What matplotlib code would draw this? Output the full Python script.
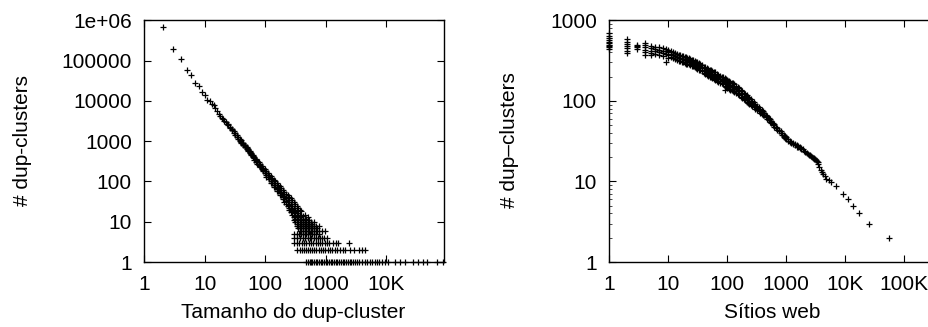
import matplotlib
matplotlib.use("Agg")
import matplotlib.pyplot as plt
from matplotlib.ticker import FixedLocator, LogLocator, NullLocator

plt.rcParams['font.family'] = ['Liberation Sans', 'DejaVu Sans']

# --- grafico 1: tamanho do dup-cluster x numero de dup-clusters ---
# tamanhos pequenos, um ponto cada
head_x = [2, 3, 4, 5, 6, 7, 8, 9, 10, 11, 12, 13, 14, 15, 16, 17, 18, 19, 20, 21, 22, 23]
head_y = [670000, 194000, 111000, 57000, 43000, 28000, 23000, 17000, 13800, 10700, 9800,
          8600, 7700, 6600, 5500, 4600, 4200, 3800, 3500, 3200, 2950, 2700]

# faixa densa (tamanho, contagens lidas)
band_groups = [
    (24, [2700, 2500]), (26, [2300, 2150]), (28, [2000, 1850]), (30, [1780, 1620]),
    (32, [1560, 1430]), (34, [1400, 1270]), (36, [1250, 1130]), (38, [1130, 1020]),
    (40, [1040, 980, 920]), (43, [900, 855, 810]), (46, [790, 748, 705]),
    (49, [700, 664, 625]), (52, [630, 593, 555]), (55, [570, 534, 500]),
    (58, [515, 482, 450]), (62, [455, 425, 395]), (66, [405, 377, 350]),
    (70, [365, 337, 310]), (74, [330, 303, 278]), (78, [300, 275, 250]),
    (83, [268, 244, 222]), (88, [240, 218, 198]), (93, [218, 197, 178]),
    (98, [198, 178, 160]), (104, [178, 158, 142, 130]), (110, [162, 143, 128]),
    (116, [148, 129, 114]), (123, [133, 115, 102, 92]), (130, [122, 104, 92]),
    (138, [110, 93, 82, 74]), (146, [100, 83, 73]), (155, [90, 74, 65, 58]),
    (164, [82, 67, 58]), (174, [75, 60, 52, 45]), (184, [68, 54, 47]),
    (195, [62, 48, 42, 36]), (207, [55, 43, 37, 31]), (220, [50, 38, 33, 28]),
    (233, [45, 34, 30, 25]), (247, [42, 31, 26, 22, 19]), (262, [38, 28, 24, 20, 17]),
    (278, [34, 25, 21, 18, 15]), (295, [30, 22, 19, 16, 13, 11]),
    (313, [27, 20, 17, 14, 12, 10]), (332, [24, 18, 15, 13, 11, 9, 8]),
    (352, [22, 16, 14, 12, 10, 8, 7]), (373, [20, 15, 13, 11, 9, 8, 7, 6]),
    (395, [18, 14, 12, 10, 9, 8, 7, 6]), (420, [14, 12, 11, 10, 9, 8, 7, 6]),
    (445, [15, 12, 10, 9, 8, 7, 6]), (470, [12, 10, 9, 8, 7, 6]),
    (500, [13, 11, 9, 8, 7, 6]), (530, [11, 9, 8, 7, 6]), (560, [10, 9, 8, 7, 6]),
    (600, [9, 8, 7, 6]), (640, [10, 8, 7, 6]), (680, [8, 7, 6]), (720, [7, 6]),
    (780, [8, 6]), (850, [6]), (960, [6]),
]

# linhas de contagem baixa
row5_x = [300, 330, 360, 390, 420, 450, 480, 510, 550, 600, 650, 700, 760]
row4_x = [300, 340, 380, 420, 460, 500, 540, 580, 630, 680, 740, 800, 870, 950, 1050]
row3_x = [300, 330, 360, 400, 440, 480, 520, 570, 620, 680, 740, 810, 880, 960,
          1050, 1150, 1300, 1450, 1600, 2400]
row2_x = [330, 370, 400, 430, 470, 510, 550, 600, 650, 700, 760, 830, 900, 980, 1070,
          1170, 1280, 1400, 1550, 1700, 1900, 2100, 2500, 2900, 3500, 4000, 4500]
row1_x = [480, 510, 540, 570, 600, 640, 680, 720, 770, 820, 870, 930, 990, 1050, 1120,
          1200, 1280, 1370, 1460, 1560, 1670, 1780, 1900, 2030, 2170, 2320, 2480, 2650,
          2830, 3000, 3300, 3600, 4000, 4400, 4800, 5300, 5800, 6400, 7000, 7700, 8500,
          9400, 10700, 13800, 17000, 20400, 27500, 33800, 40700, 47900, 69000, 87000]

# --- grafico 2: sitios web x numero de dup-clusters ---
web_groups = [
    (1, [700, 640, 600, 570, 540, 520, 500, 480, 460, 440]),
    (2, [580, 540, 510, 480, 450, 420, 390]),
    (3, [500, 480, 460, 440]),
    (4, [530, 490, 460, 430, 400, 370]),
    (5, [480, 450, 420, 390, 370]),
    (6, [470, 440, 410, 380]), (7, [460, 430, 400, 370]), (8, [450, 420, 390, 360]),
    (9, [440, 410, 380, 300]), (10, [430, 400, 370, 340]), (11, [410, 380, 350]),
    (12, [400, 370, 340]), (13, [390, 360, 330]), (14, [380, 350, 320]),
    (15, [375, 345, 315]), (16, [370, 340, 310]), (17, [365, 335, 305]),
    (18, [360, 330, 300]), (19, [355, 325, 295]), (20, [350, 320, 290]),
    (21, [345, 315, 288]), (22, [340, 310, 285]), (23, [335, 305, 280]),
    (25, [325, 295, 270]), (26, [320, 292, 268]), (28, [310, 285, 260]),
    (29, [305, 280, 256]), (31, [300, 275, 250]), (33, [295, 270, 245]),
    (35, [290, 265, 240]), (37, [280, 256, 232]), (40, [265, 242, 220]),
    (42, [262, 238, 216]), (45, [255, 232, 210]), (47, [250, 228, 206]),
    (50, [245, 222, 200]), (53, [240, 217, 196]), (56, [235, 212, 192]),
    (59, [230, 207, 187]), (63, [225, 202, 182]), (66, [218, 197, 178]),
    (70, [212, 192, 173]), (75, [206, 187, 169]), (80, [200, 182, 165]),
    (85, [195, 177, 160]), (90, [190, 172, 155, 135]), (95, [185, 167, 150]),
    (100, [180, 162, 145]), (106, [176, 158, 141]), (112, [172, 155, 138]),
    (118, [168, 151, 135]), (125, [165, 148, 132]), (132, [160, 144, 128]),
    (140, [155, 140, 125]), (149, [150, 135, 121]), (158, [145, 131, 118]),
    (169, [138, 125, 113]), (180, [132, 120, 108]), (190, [127, 116, 105]),
    (200, [122, 112, 102]), (212, [117, 108, 98]), (225, [112, 104, 95]),
    (237, [108, 100, 92]), (250, [104, 97, 90]), (265, [100, 93, 87]),
    (280, [96, 90, 84]), (300, [91, 86, 80]), (320, [87, 82, 77]),
    (340, [83, 78, 74]), (360, [80, 75, 71]), (380, [77, 72, 68]),
    (400, [74, 70, 66]), (425, [70, 66]), (450, [67, 63]), (475, [64, 60]),
    (500, [62, 58]), (530, [59, 55]), (560, [56, 53]), (595, [53, 50]),
    (630, [51, 48]), (665, [48, 46]), (700, [46, 44]), (750, [44, 42]),
    (800, [42, 40]), (850, [40, 38]), (900, [38, 36]), (950, [37, 35]),
    (1000, [36, 34]), (1080, [34, 32]), (1150, [32, 31]), (1220, [31, 30]),
    (1300, [30, 29]), (1400, [29, 28]), (1500, [28, 27]), (1600, [27.5, 26.5]),
    (1700, [27, 26]), (1800, [26, 25]), (1900, [25]), (2000, [24]), (2100, [23]),
    (2200, [22.5]), (2300, [22]), (2400, [21.5]), (2500, [21]), (2600, [20.5]),
    (2700, [20]), (2800, [19.8]), (2900, [19.5]), (3000, [19.2]), (3100, [19]),
    (3200, [18.5]), (3300, [18]), (3400, [17.2]), (3500, [16.5]), (3650, [15.2]),
    (3800, [14]), (4000, [13.2]), (4200, [12.4]), (4500, [11.6]), (4800, [10.8]),
    (5200, [10.3]), (5700, [9.8]), (6900, [8.9]), (9000, [7]), (11100, [6]),
    (13500, [5]), (17000, [4]), (25000, [3]), (54000, [2]),
]

xt_left = [1, 10, 100, 1000, 10000]
xt_left_lbl = ['1', '10', '100', '1000', '10K']
yt_left = [1, 10, 100, 1000, 10000, 100000, 1000000]
yt_left_lbl = ['1', '10', '100', '1000', '10000', '100000', '1e+06']
xt_right = [1, 10, 100, 1000, 10000, 100000]
xt_right_lbl = ['1', '10', '100', '1000', '10K', '100K']
yt_right = [1, 10, 100, 1000]
yt_right_lbl = ['1', '10', '100', '1000']

FS = 15


def expand(groups):
    xs, ys = [], []
    for x, vals in groups:
        for v in vals:
            xs.append(x)
            ys.append(v)
    return xs, ys


def style_axes(ax, xt, xl, yt, yl):
    ax.set_xscale('log')
    ax.set_yscale('log')
    ax.xaxis.set_major_locator(FixedLocator(xt))
    ax.set_xticklabels(xl)
    ax.xaxis.set_minor_locator(NullLocator())
    ax.yaxis.set_major_locator(FixedLocator(yt))
    ax.set_yticklabels(yl)
    ax.yaxis.set_minor_locator(LogLocator(base=10, subs=range(2, 10)))
    ax.yaxis.set_minor_formatter(plt.NullFormatter())
    ax.tick_params(which='both', direction='in', top=True, right=True,
                   labelsize=FS, colors='black')
    ax.tick_params(which='major', length=5, width=0.8)
    ax.tick_params(which='minor', length=2.5, width=0.5)
    ax.tick_params(axis='x', pad=9)
    ax.tick_params(axis='y', pad=9)
    for s in ax.spines.values():
        s.set_linewidth(1.0)


W, H = 929, 327
fig = plt.figure(figsize=(W / 100, H / 100), dpi=100)

mk = dict(linestyle='none', marker='+', color='black', ms=4.5, mew=0.9)

# esquerdo
ax1 = fig.add_axes([144.3 / W, 1 - 262 / H, 299.7 / W, 241.7 / H])
ax1.plot(head_x, head_y, **mk)
bx, by = expand(band_groups)
ax1.plot(bx, by, **mk)
ax1.plot(row5_x, [5] * len(row5_x), **mk)
ax1.plot(row4_x, [4] * len(row4_x), **mk)
ax1.plot(row3_x, [3] * len(row3_x), **mk)
ax1.plot(row2_x, [2] * len(row2_x), **mk)
ax1.plot(row1_x, [1] * len(row1_x), **mk, clip_on=False)
ax1.set_xlim(1, 90000)
ax1.set_ylim(1, 1e6)
style_axes(ax1, xt_left, xt_left_lbl, yt_left, yt_left_lbl)
ax1.set_xlabel('Tamanho do dup-cluster', fontsize=FS, va='center')
ax1.xaxis.set_label_coords((293 - 144.3) / 299.7, (262 - 313) / 241.7)
ax1.set_ylabel('# dup-clusters', fontsize=FS, va='center')
ax1.yaxis.set_label_coords((23 - 144.3) / 299.7, (262 - 140) / 241.7)

# direito
dec = 59.0
ax2 = fig.add_axes([609.3 / W, 1 - 262 / H, 5.6 * dec / W, 241.7 / H])
wx, wy = expand(web_groups)
ax2.plot(wx, wy, **mk, clip_on=False)
ax2.set_xlim(1, 10 ** 5.6)
ax2.set_ylim(1, 1000)
style_axes(ax2, xt_right, xt_right_lbl, yt_right, yt_right_lbl)
ax2.set_xlabel('Sítios web', fontsize=FS, va='center')
ax2.xaxis.set_label_coords((771.7 - 609.3) / (5.6 * dec), (262 - 313) / 241.7)
ax2.set_ylabel('# dup–clusters', fontsize=FS, va='center')
ax2.yaxis.set_label_coords((510 - 609.3) / (5.6 * dec), (262 - 140) / 241.7)

fig.savefig('out.png', dpi=100)
